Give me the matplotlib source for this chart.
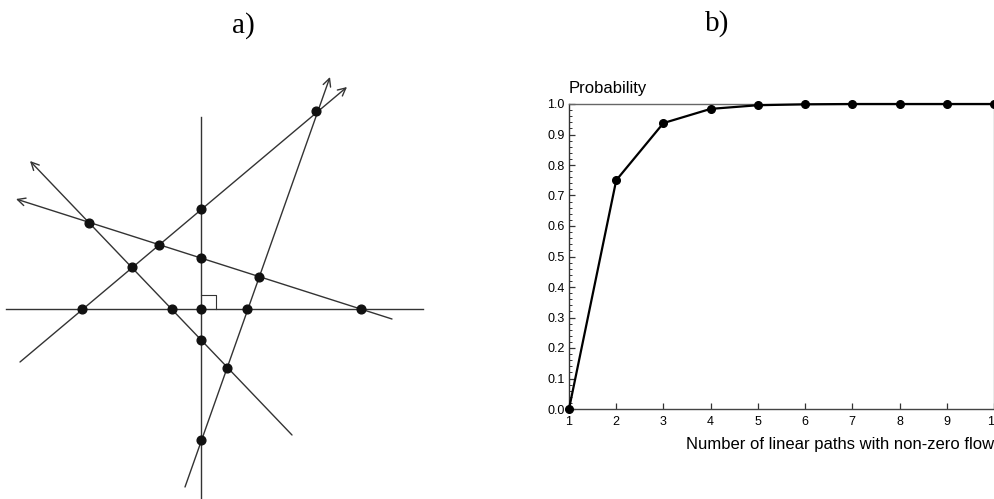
import numpy as np
import matplotlib
matplotlib.use("Agg")
import matplotlib.pyplot as plt
from matplotlib.ticker import MultipleLocator, FormatStrFormatter

# panel a: construction, origin at the right-angle corner (units = pixels)
dots_x = [115, 0, -112, -42, 0, -69, 58, -119, -29, 0, 46, 160, 0, 26, 0]
dots_y = [198, 100, 86, 64, 51, 42, 32, 0, 0, 0, 0, 0, -31, -59, -131]

# plain lines (start, end)
plain_lines = [
    ((-195, 0), (222, 0)),
    ((0, 192), (0, -189)),
]
# lines with an open arrow at the end point
arrow_lines = [
    ((-181, -53), (146, 222)),
    ((-16, -178), (129, 232)),
    ((91, -126), (-171, 148)),
    ((191, -10), (-185, 110)),
]
right_angle = ([0, 15, 15], [14, 14, 0])

# panel b: probability curve
n_paths = [1, 2, 3, 4, 5, 6, 7, 8, 9, 10]
prob = [0.0, 0.75, 0.9375, 0.984, 0.996, 0.999, 1.0, 1.0, 1.0, 1.0]

W, H = 995, 499
fig = plt.figure(figsize=(W / 100, H / 100), dpi=100)

# ---- panel a ----
ax_a = fig.add_axes([0, 0, 450 / W, 1])
ax_a.set_xlim(-201, 249)
ax_a.set_ylim(-190, 309)
ax_a.axis("off")
lc = "#333333"
for (x0, y0), (x1, y1) in plain_lines:
    ax_a.plot([x0, x1], [y0, y1], color=lc, lw=1.0)
for (x0, y0), (x1, y1) in arrow_lines:
    ax_a.annotate("", xy=(x1, y1), xytext=(x0, y0),
                  arrowprops=dict(arrowstyle="->", color=lc, lw=1.0,
                                  mutation_scale=14, shrinkA=0, shrinkB=0))
ax_a.plot(right_angle[0], right_angle[1], color=lc, lw=0.8)
ax_a.plot(dots_x, dots_y, "o", color="#111111", ms=6.3, ls="none", zorder=5)

# ---- panel b ----
ax_b = fig.add_axes([569 / W, 90 / H, 425 / W, 305 / H])
ax_b.plot(n_paths, prob, "-o", color="black", lw=1.6, ms=5.5, clip_on=False, zorder=5)
ax_b.set_xlim(1, 10)
ax_b.set_ylim(0, 1)
ax_b.xaxis.set_major_locator(MultipleLocator(1))
ax_b.yaxis.set_major_locator(MultipleLocator(0.1))
ax_b.yaxis.set_minor_locator(MultipleLocator(0.02))
ax_b.yaxis.set_major_formatter(FormatStrFormatter("%.1f"))
ax_b.tick_params(axis="both", which="major", direction="in", length=4, width=0.9,
                 labelsize=9, pad=3, color="#333333")
ax_b.tick_params(axis="y", which="minor", direction="in", length=2.5, width=0.7, color="#333333")
ax_b.tick_params(axis="x", pad=5)
for lab in ax_b.get_xticklabels() + ax_b.get_yticklabels():
    lab.set_family("Liberation Sans")
ax_b.spines["left"].set_color("#333333")
ax_b.spines["bottom"].set_color("#444444")
ax_b.spines["top"].set_color("#666666")
ax_b.spines["right"].set_color("#999999")
for s in ax_b.spines.values():
    s.set_linewidth(1.0)
ax_b.text(0, 1.05, "Probability", transform=ax_b.transAxes, ha="left", va="center",
          fontsize=12, family="Liberation Sans")
ax_b.text(1.0, -0.115, "Number of linear paths with non-zero flow", transform=ax_b.transAxes,
          ha="right", va="center", fontsize=12, family="Liberation Sans")

# panel labels
fig.text(243 / W, 1 - 26 / H, "a)", ha="center", va="center", fontsize=21, family="Liberation Serif")
fig.text(717 / W, 1 - 24 / H, "b)", ha="center", va="center", fontsize=21, family="Liberation Serif")

fig.savefig("out.png", dpi=100, facecolor="white")
